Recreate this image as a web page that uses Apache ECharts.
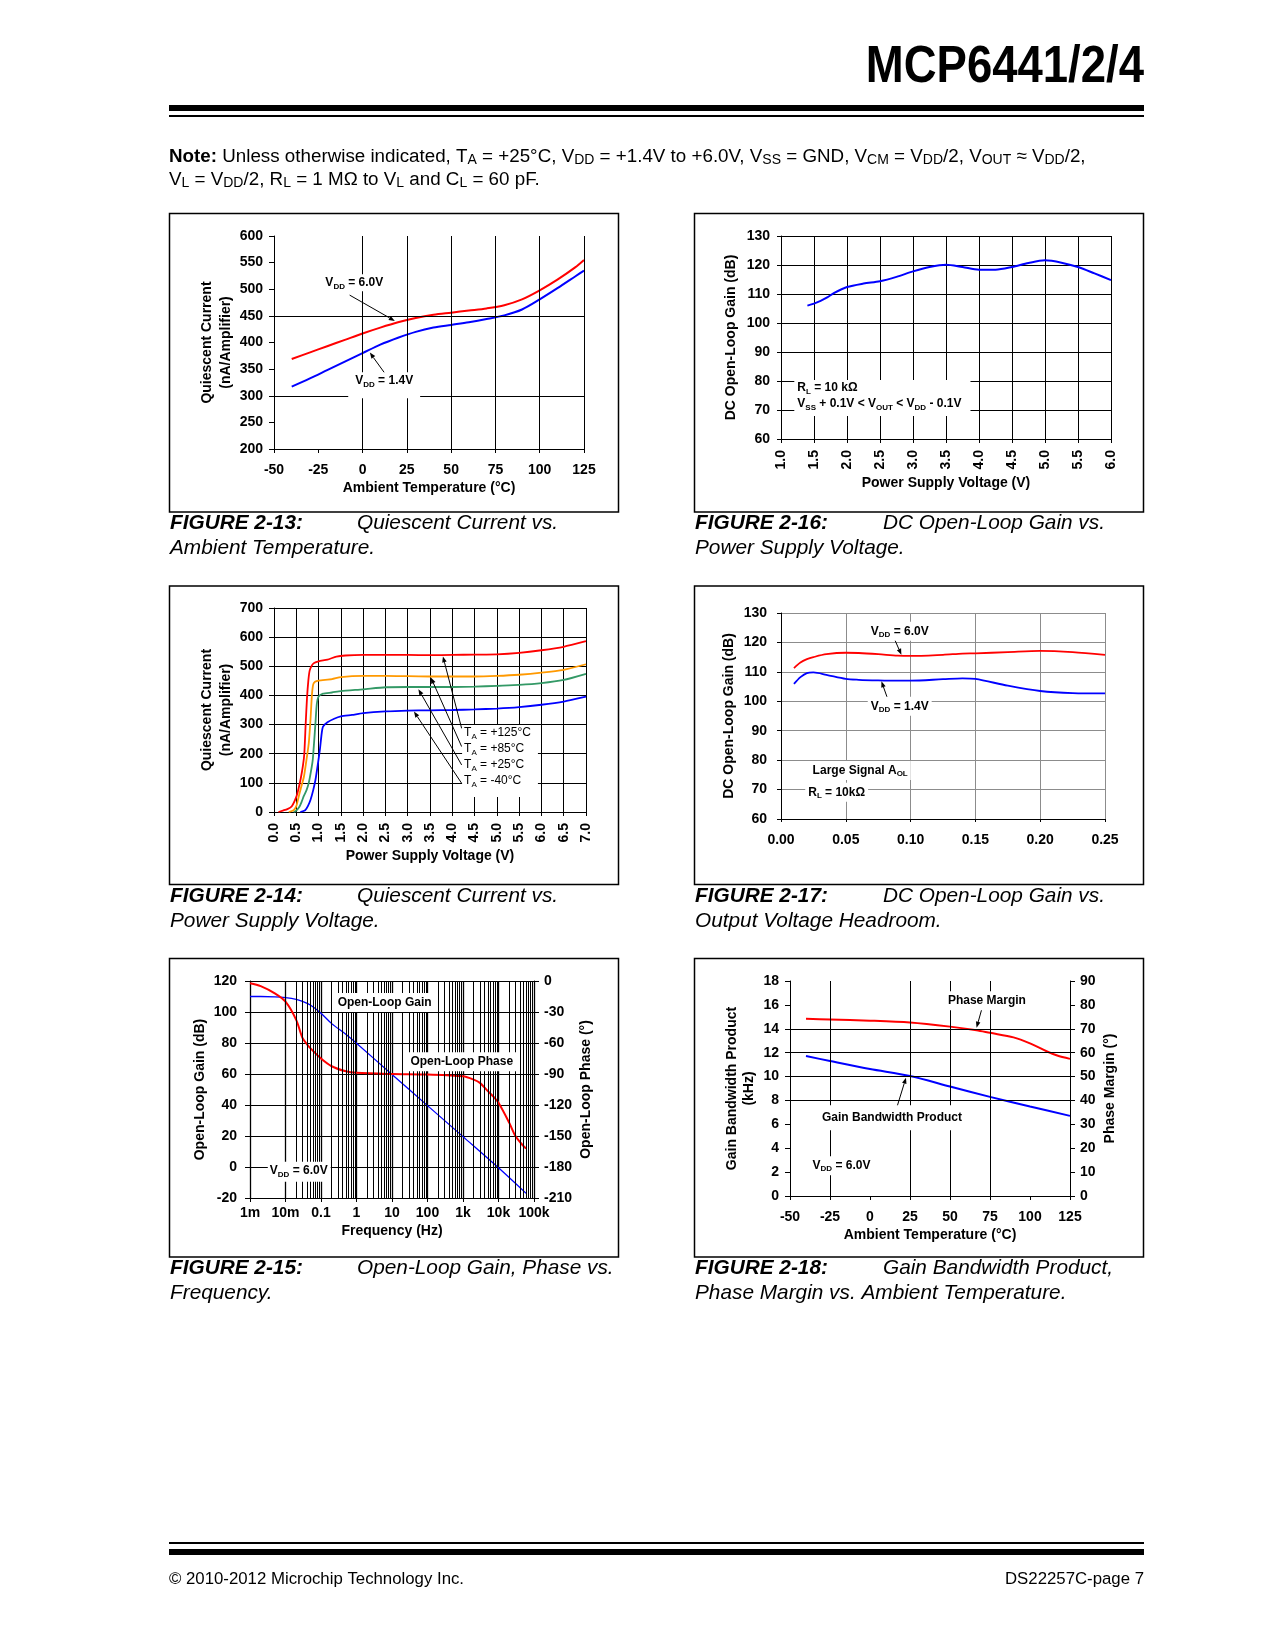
<!DOCTYPE html>
<html>
<head>
<meta charset="utf-8">
<script src="https://cdn.jsdelivr.net/npm/echarts/dist/echarts.min.js"></script>
<style>
html,body{margin:0;padding:0;background:#fff;}
#page{width:1275px;height:1650px;}
</style>
</head>
<body>
<div id="page"></div>
<script>
const FONT = '"Liberation Sans", Arial, Helvetica, sans-serif';

// ---------- FIGURE 2-13: Quiescent current vs ambient temperature ----------
const temp13 = [-40,-30,-20,-10,0,10,20,30,40,50,60,70,80,90,100,110,120,125];
const iq13Vdd60 = [369,381,393,405,417,428,438,446,452,456,460,464,470,481,498,518,541,555];
const iq13Vdd14 = [317,332,348,364,380,396,409,420,428,433,438,444,451,462,481,502,524,535];
const grid13X = [0,25,50,75,100,125];
const grid13Y = [300,450];

// ---------- FIGURE 2-16: DC open-loop gain vs power supply voltage ----------
const vdd16 = [1.4,1.5,1.6,1.7,1.8,2.0,2.25,2.5,2.75,3.0,3.25,3.5,3.75,4.0,4.25,4.5,4.75,5.0,5.25,5.5,5.75,6.0];
const aol16 = [106.0,106.7,107.6,108.8,110.3,112.4,113.6,114.4,115.9,117.8,119.3,120.1,119.3,118.4,118.4,119.3,120.7,121.6,120.8,119.3,117.1,114.8];

// ---------- FIGURE 2-14: Quiescent current vs power supply voltage ----------
const iq14T125 = [[0.1,0],[0.2,5],[0.3,10],[0.4,20],[0.5,52],[0.55,80],[0.6,115],[0.65,160],[0.68,200],[0.71,300],[0.74,390],[0.77,450],[0.8,485],[0.85,503],[0.9,511],[1.0,517],[1.2,523],[1.4,533],[1.6,537],[2.0,539],[3.0,539],[3.5,538],[4.0,539],[4.5,540],[5.0,541],[5.5,546],[6.0,555],[6.5,567],[7.0,586]];
const iq14T85 = [[0.33,0],[0.44,6],[0.5,20],[0.55,50],[0.6,80],[0.67,120],[0.72,170],[0.78,236],[0.82,320],[0.85,400],[0.88,438],[0.92,447],[1.0,451],[1.3,456],[1.5,463],[2.0,467],[2.5,467],[3.0,466],[3.5,465],[4.0,465],[4.5,465],[5.0,467],[5.5,471],[6.0,478],[6.5,488],[7.0,507]];
const iq14T25 = [[0.44,0],[0.5,5],[0.57,18],[0.62,35],[0.67,55],[0.73,75],[0.78,100],[0.83,140],[0.87,180],[0.9,240],[0.93,305],[0.96,370],[1.0,396],[1.1,406],[1.3,410],[1.5,415],[2.0,421],[2.5,428],[3.0,429],[3.5,429],[4.0,429],[4.5,430],[5.0,433],[5.5,436],[6.0,442],[6.5,453],[7.0,474]];
const iq14Tm40 = [[0.59,0],[0.7,6],[0.76,20],[0.82,42],[0.88,75],[0.93,110],[0.98,160],[1.03,215],[1.07,270],[1.1,293],[1.2,308],[1.35,320],[1.5,328],[1.75,333],[2.0,339],[2.5,345],[3.0,348],[3.5,349],[4.0,350],[4.5,352],[5.0,355],[5.5,360],[6.0,368],[6.5,379],[7.0,396]];

// ---------- FIGURE 2-17: DC open-loop gain vs output voltage headroom ----------
const hr17 = [0.010,0.015,0.020,0.025,0.035,0.050,0.060,0.075,0.090,0.100,0.125,0.140,0.150,0.175,0.200,0.225,0.250];
const aol17Vdd60 = [111.3,113.2,114.3,115.0,116.0,116.5,116.4,116.0,115.5,115.4,115.8,116.2,116.3,116.7,117.1,116.7,115.8];
const aol17Vdd14 = [105.9,108.2,109.6,109.8,109.0,107.6,107.3,107.1,107.0,107.0,107.5,107.8,107.6,105.3,103.5,102.8,102.7];

// ---------- FIGURE 2-15: Open-loop gain, phase vs frequency ----------
const freqTicks15 = [0.001,0.01,0.1,1,10,100,1000,10000,100000];
const freqLabels15 = ['1m','10m','0.1','1','10','100','1k','10k','100k'];
const freqGain15 = [0.001,0.002,0.005,0.01,0.02,0.03,0.05,0.1,0.2,0.5,1,10,100,1000,10000,60000];
const gain15 = [110,110,109.8,109.3,108.2,106.8,104.5,99.2,92.5,85.6,79.8,59.7,39.6,19.6,-0.5,-17];
const freqPhase15 = [0.001,0.002,0.005,0.01,0.02,0.03,0.04,0.05,0.1,0.2,0.5,1,10,100,1000,2000,3000,5000,7000,10000,20000,30000,50000,60000];
const phase15 = [-2.2,-5,-12,-20,-37.6,-55,-61,-65,-75,-82.5,-87.4,-88.9,-90,-90.5,-92.2,-95.4,-98.6,-106.6,-111.5,-117.9,-137.1,-150,-159.6,-162.2];

// ---------- FIGURE 2-18: GBWP, phase margin vs ambient temperature ----------
const temp18 = [-40,-25,0,25,50,75,100,125];
const gbwp18 = [11.72,11.3,10.63,10.05,9.17,8.3,7.49,6.71];
const temp18pm = [-40,-25,0,25,50,66.6,75,89.7,100,110.7,117,125];
const pm18 = [74.2,73.9,73.4,72.6,70.9,69.4,68.3,66.4,63.9,60.5,58.8,57.4];
const grid18X = [-25,25,50,75];
const grid18Y = [8,10,12,14];

// ---------- helpers ----------
const pairs = (xs, ys) => xs.map((x, i) => [x, ys[i]]);

function axis(o) {
  const a = {
    type: o.type || 'value',
    gridIndex: o.grid,
    min: o.min, max: o.max,
    position: o.position,
    name: o.name || '',
    nameLocation: 'middle',
    nameGap: o.nameGap || 20,
    nameRotate: o.nameRotate,
    nameMoveOverlap: false,
    nameTextStyle: {color: '#000', fontFamily: FONT, fontSize: 14, fontWeight: 'bold', lineHeight: o.nameLH || 17},
    axisLine: {show: true, onZero: false, lineStyle: {color: '#000', width: 1}},
    axisTick: {show: true, inside: false, length: o.tickLen || 5, lineStyle: {color: '#000', width: 1}},
    axisLabel: {show: true, color: '#000', fontFamily: FONT, fontSize: 14, fontWeight: 'bold',
                margin: o.margin, rotate: o.rotate || 0, formatter: o.fmt, showMinLabel: true, showMaxLabel: true},
    splitLine: {show: !!o.split, lineStyle: {color: o.splitColor || '#000', width: o.splitWidth || 1, type: 'solid'}},
    minorTick: {show: false}, minorSplitLine: {show: false}
  };
  if (a.type === 'log') { a.logBase = 10; } else { a.interval = o.interval; }
  return a;
}

function gridLines(xi, yi, xs, ys, color) {
  return {
    type: 'line', xAxisIndex: xi, yAxisIndex: yi, data: [], z: 1, silent: true, animation: false,
    markLine: {
      silent: true, animation: false, symbol: ['none', 'none'], label: {show: false},
      emphasis: {disabled: true},
      lineStyle: {color: color || '#000', width: 1, type: 'solid'},
      data: xs.map(v => ({xAxis: v})).concat(ys.map(v => ({yAxis: v})))
    }
  };
}

function curve(xi, yi, data, color, width, smooth) {
  return {
    type: 'line', xAxisIndex: xi, yAxisIndex: yi, data: data, z: 3,
    symbol: 'none', showSymbol: false, silent: true, animation: false,
    smooth: smooth === undefined ? 0.3 : smooth,
    lineStyle: {color: color, width: width || 2}, itemStyle: {color: color}
  };
}

const RED = '#ff0000', BLUE = '#0000ff', ORANGE = '#ff9900', GREEN = '#339966';
const decades15 = [0.001,0.01,0.1,1,10,100,1000,10000];
const minor15 = [];
decades15.forEach(d => [2,3,4,5,6,7,8,9].forEach(k => minor15.push(k * d)));

const fmt1 = v => (Math.round(v * 10) / 10).toFixed(1);
const fmt2 = v => (Math.round(v * 100) / 100).toFixed(2);
const fmtFreq = v => {
  const i = freqTicks15.findIndex(t => Math.abs(Math.log10(t) - Math.log10(v)) < 0.01);
  return i >= 0 ? freqLabels15[i] : '';
};

const option = {
  animation: false,
  backgroundColor: '#fff',
  textStyle: {fontFamily: FONT},
  grid: [
    {left: 274, top: 236, width: 310, height: 213, containLabel: false, outerBoundsMode: 'none'},
    {left: 781, top: 236, width: 330, height: 203, containLabel: false, outerBoundsMode: 'none'},
    {left: 274, top: 608, width: 312, height: 204, containLabel: false, outerBoundsMode: 'none'},
    {left: 781, top: 613, width: 324, height: 206, containLabel: false, outerBoundsMode: 'none'},
    {left: 250, top: 981, width: 284, height: 217, containLabel: false, outerBoundsMode: 'none'},
    {left: 790, top: 981, width: 280, height: 215, containLabel: false, outerBoundsMode: 'none'}
  ],
  xAxis: [
    axis({grid: 0, min: -50, max: 125, interval: 25, name: 'Ambient Temperature (°C)', nameGap: 31, margin: 14, tickLen: 4}),
    axis({grid: 1, min: 1, max: 6, interval: 0.5, rotate: 90, fmt: fmt1, name: 'Power Supply Voltage (V)', nameGap: 36, margin: 11, split: true, tickLen: 4}),
    axis({grid: 2, min: 0, max: 7, interval: 0.5, rotate: 90, fmt: fmt1, name: 'Power Supply Voltage (V)', nameGap: 36, margin: 11, split: true, tickLen: 4}),
    axis({grid: 3, min: 0, max: 0.25, interval: 0.05, fmt: fmt2, margin: 14, split: true, splitColor: '#8c8c8c', tickLen: 3}),
    axis({grid: 4, type: 'log', min: 0.001, max: 100000, fmt: fmtFreq, name: 'Frequency (Hz)', nameGap: 25, margin: 8, split: true, splitWidth: 1.3, tickLen: 4}),
    axis({grid: 5, min: -50, max: 125, interval: 25, name: 'Ambient Temperature (°C)', nameGap: 31, margin: 14, tickLen: 4})
  ],
  yAxis: [
    axis({grid: 0, min: 200, max: 600, interval: 50, name: 'Quiescent Current\n(nA/Amplifier)', nameRotate: 90, nameGap: 38, nameLH: 19, margin: 11}),
    axis({grid: 1, min: 60, max: 130, interval: 10, name: 'DC Open-Loop Gain (dB)', nameRotate: 90, nameGap: 41, margin: 11, split: true, tickLen: 4}),
    axis({grid: 2, min: 0, max: 700, interval: 100, name: 'Quiescent Current\n(nA/Amplifier)', nameRotate: 90, nameGap: 38, nameLH: 19, margin: 11, split: true}),
    axis({grid: 3, min: 60, max: 130, interval: 10, name: 'DC Open-Loop Gain (dB)', nameRotate: 90, nameGap: 43, margin: 14, split: true, splitColor: '#8c8c8c', tickLen: 4}),
    axis({grid: 4, min: -20, max: 120, interval: 20, name: 'Open-Loop Gain (dB)', nameRotate: 90, nameGap: 41, margin: 13, split: true}),
    axis({grid: 4, position: 'right', min: -210, max: 0, interval: 30, name: 'Open-Loop Phase (°)', nameRotate: 90, nameGap: 44, margin: 10}),
    axis({grid: 5, min: 0, max: 18, interval: 2, name: 'Gain Bandwidth Product\n(kHz)', nameRotate: 90, nameGap: 32, nameLH: 17, margin: 11}),
    axis({grid: 5, position: 'right', min: 0, max: 90, interval: 10, name: 'Phase Margin (°)', nameRotate: 90, nameGap: 32, margin: 10})
  ],
  series: [
    gridLines(0, 0, grid13X, grid13Y),
    curve(0, 0, pairs(temp13, iq13Vdd60), RED, 2),
    curve(0, 0, pairs(temp13, iq13Vdd14), BLUE, 2),

    curve(1, 1, pairs(vdd16, aol16), BLUE, 2),

    curve(2, 2, iq14Tm40, BLUE, 1.8, 0.2),
    curve(2, 2, iq14T25, GREEN, 1.8, 0.2),
    curve(2, 2, iq14T85, ORANGE, 1.8, 0.2),
    curve(2, 2, iq14T125, RED, 1.8, 0.2),

    curve(3, 3, pairs(hr17, aol17Vdd60), RED, 1.8),
    curve(3, 3, pairs(hr17, aol17Vdd14), BLUE, 1.8),

    gridLines(4, 4, minor15, []),
    curve(4, 4, pairs(freqGain15, gain15), BLUE, 1.3),
    curve(4, 5, pairs(freqPhase15, phase15), RED, 2),

    gridLines(5, 6, grid18X, grid18Y),
    curve(5, 6, pairs(temp18, gbwp18), BLUE, 2),
    curve(5, 7, pairs(temp18pm, pm18), RED, 2)
  ]
};

const chart = echarts.init(document.getElementById('page'), null, {renderer: 'canvas', width: 1275, height: 1650});
chart.setOption(option);

// ---------- annotations (positions in data units) ----------
const labels = [
  {a: [0, 0], p: [-21, 512], t: 'V{DD} = 6.0V', al: 'left', pad: [1, 3, 1, 3]},
  {a: [0, 0], p: [12.2, 328], t: 'V{DD} = 1.4V', al: 'center', pad: [1, 7, 10, 7]},
  {a: [1, 1], p: [1.247, 74.8], t: 'R{L} = 10 kΩ\nV{SS} + 0.1V < V{OUT} < V{DD} - 0.1V', al: 'left', pad: [0, 9, 4, 3], lh: 16},
  {a: [2, 2], p: [4.265, 189], t: 'T{A} = +125°C\nT{A} = +85°C\nT{A} = +25°C\nT{A} = -40°C', al: 'left', pad: [0, 7, 8, 2], lh: 16, w: 'normal'},
  {a: [3, 3], p: [0.0916, 123.8], t: 'V{DD} = 6.0V', al: 'center', pad: [2, 3, 2, 3]},
  {a: [3, 3], p: [0.0916, 98.3], t: 'V{DD} = 1.4V', al: 'center', pad: [2, 3, 2, 3]},
  {a: [3, 3], p: [0.0244, 76.5], t: 'Large Signal A{OL}', al: 'left', pad: [2, 3, 2, 3]},
  {a: [3, 3], p: [0.021, 69.1], t: 'R{L} = 10kΩ', al: 'left', pad: [2, 3, 2, 3]},
  {a: [4, 4], p: [0.294, 106.1], t: 'Open-Loop Gain', al: 'left', pad: [2, 3, 2, 3]},
  {a: [4, 4], p: [33.1, 67.9], t: 'Open-Loop Phase', al: 'left', pad: [2, 3, 2, 3]},
  {a: [4, 4], p: [0.00361, -2.7], t: 'V{DD} = 6.0V', al: 'left', pad: [2, 3, 3, 2]},
  {a: [5, 6], p: [48.7, 16.35], t: 'Phase Margin', al: 'left', pad: [2, 3, 2, 3]},
  {a: [5, 6], p: [-30.0, 6.56], t: 'Gain Bandwidth Product', al: 'left', pad: [5, 3, 5, 3]},
  {a: [5, 6], p: [-35.9, 2.54], t: 'V{DD} = 6.0V', al: 'left', pad: [2, 3, 2, 3]}
];
const arrows = [
  {a: [0, 0], from: [-7.3, 489], to: [18.2, 440.6]},
  {a: [0, 0], from: [12.5, 342.5], to: [4.1, 381]},
  {a: [2, 2], from: [4.21, 287], to: [3.79, 534]},
  {a: [2, 2], from: [4.21, 224.5], to: [3.52, 461.6]},
  {a: [2, 2], from: [4.21, 161.5], to: [3.24, 421.5]},
  {a: [2, 2], from: [4.21, 98.5], to: [3.14, 344.8]},
  {a: [3, 3], from: [0.0878, 120.9], to: [0.0929, 115.8]},
  {a: [3, 3], from: [0.0821, 101.1], to: [0.0775, 106.8]},
  {a: [5, 6], from: [69.7, 15.57], to: [66.6, 14.09]},
  {a: [5, 6], from: [16.6, 7.34], to: [22.5, 9.91]}
];

function toRich(s) {
  return s.split('\n').map(line => {
    const parts = line.split(/\{([^}]*)\}/);
    let out = '';
    parts.forEach((p, i) => { if (p) out += (i % 2 ? '{s|' : '{m|') + p + '}'; });
    return out;
  }).join('\n');
}
function richStyles(size, subSize, weight, lh, subLH) {
  return {
    m: {fontSize: size, fontWeight: weight, fontFamily: FONT, color: '#000', lineHeight: lh, verticalAlign: 'middle'},
    s: {fontSize: subSize, fontWeight: weight, fontFamily: FONT, color: '#000', lineHeight: subLH, verticalAlign: 'bottom'},
    b: {fontSize: size, fontWeight: 'bold', fontFamily: FONT, color: '#000', lineHeight: lh, verticalAlign: 'middle'}
  };
}
const px = (a, p) => chart.convertToPixel({xAxisIndex: a[0], yAxisIndex: a[1]}, p);

const G = [];
// Header
G.push({type: 'text', x: 1144, y: 68, scaleX: 0.875, z: 100,
  style: {text: 'MCP6441/2/4', fontSize: 52, fontWeight: 'bold', fontFamily: FONT, fill: '#000', textAlign: 'right', verticalAlign: 'middle', textVerticalAlign: 'middle'}});
G.push({type: 'rect', z: 100, shape: {x: 169, y: 105, width: 975, height: 6}, style: {fill: '#000'}});
G.push({type: 'rect', z: 100, shape: {x: 169, y: 115, width: 975, height: 2}, style: {fill: '#000'}});
const noteStyles = richStyles(18.8, 14, 'normal', 20, 6);
G.push({type: 'text', x: 169, y: 157, z: 100,
  style: {text: '{b|Note:}' + toRich(' Unless otherwise indicated, T{A} = +25°C, V{DD} = +1.4V to +6.0V, V{SS} = GND, V{CM} = V{DD}/2, V{OUT} ≈ V{DD}/2,'),
          rich: noteStyles, textAlign: 'left', verticalAlign: 'middle', textVerticalAlign: 'middle'}});
G.push({type: 'text', x: 169, y: 180, z: 100,
  style: {text: toRich('V{L} = V{DD}/2, R{L} = 1 MΩ to V{L} and C{L} = 60 pF.'),
          rich: noteStyles, textAlign: 'left', verticalAlign: 'middle', textVerticalAlign: 'middle'}});

// Footer
G.push({type: 'rect', z: 100, shape: {x: 169, y: 1542, width: 975, height: 2}, style: {fill: '#000'}});
G.push({type: 'rect', z: 100, shape: {x: 169, y: 1549, width: 975, height: 6}, style: {fill: '#000'}});
G.push({type: 'text', x: 169, y: 1579, z: 100, style: {text: '© 2010-2012 Microchip Technology Inc.', fontSize: 16.8, fontFamily: FONT, fill: '#000', textAlign: 'left', verticalAlign: 'middle', textVerticalAlign: 'middle'}});
G.push({type: 'text', x: 1144, y: 1579, z: 100, style: {text: 'DS22257C-page 7', fontSize: 16.8, fontFamily: FONT, fill: '#000', textAlign: 'right', verticalAlign: 'middle', textVerticalAlign: 'middle'}});

// Chart frames
const frames = [[169.5, 213.5], [694.5, 213.5], [169.5, 586], [694.5, 586], [169.5, 958.5], [694.5, 958.5]];
frames.forEach(f => G.push({type: 'rect', z: 100, shape: {x: f[0], y: f[1], width: 449, height: 298.5}, style: {fill: 'none', stroke: '#000', lineWidth: 1.5}}));

// Captions
const captions = [
  {x: 170, tab: 357, y: 530, fig: 'FIGURE 2-13:', l1: 'Quiescent Current vs.', l2: 'Ambient Temperature.'},
  {x: 695, tab: 883, y: 530, fig: 'FIGURE 2-16:', l1: 'DC Open-Loop Gain vs.', l2: 'Power Supply Voltage.'},
  {x: 170, tab: 357, y: 903, fig: 'FIGURE 2-14:', l1: 'Quiescent Current vs.', l2: 'Power Supply Voltage.'},
  {x: 695, tab: 883, y: 903, fig: 'FIGURE 2-17:', l1: 'DC Open-Loop Gain vs.', l2: 'Output Voltage Headroom.'},
  {x: 170, tab: 357, y: 1275, fig: 'FIGURE 2-15:', l1: 'Open-Loop Gain, Phase vs.', l2: 'Frequency.'},
  {x: 695, tab: 883, y: 1275, fig: 'FIGURE 2-18:', l1: 'Gain Bandwidth Product,', l2: 'Phase Margin vs. Ambient Temperature.'}
];
captions.forEach(c => {
  const base = {fontSize: 20.8, fontFamily: FONT, fontStyle: 'italic', fill: '#000', textAlign: 'left', verticalAlign: 'middle', textVerticalAlign: 'middle'};
  G.push({type: 'text', x: c.x, y: c.y - 7, z: 100, style: Object.assign({}, base, {text: c.fig, fontWeight: 'bold'})});
  G.push({type: 'text', x: c.tab, y: c.y - 7, z: 100, style: Object.assign({}, base, {text: c.l1})});
  G.push({type: 'text', x: c.x, y: c.y + 25 - 7, z: 100, style: Object.assign({}, base, {text: c.l2})});
});

// Arrows
arrows.forEach(ar => {
  const p0 = px(ar.a, ar.from), p1 = px(ar.a, ar.to);
  const dx = p1[0] - p0[0], dy = p1[1] - p0[1];
  const L = Math.sqrt(dx * dx + dy * dy) || 1;
  const ux = dx / L, uy = dy / L, nx = -uy, ny = ux;
  const hl = 6, hw = 2.3;
  const bx = p1[0] - ux * hl, by = p1[1] - uy * hl;
  G.push({type: 'line', z: 40, shape: {x1: p0[0], y1: p0[1], x2: bx, y2: by}, style: {stroke: '#000', lineWidth: 1}});
  G.push({type: 'polygon', z: 40, shape: {points: [[p1[0], p1[1]], [bx + nx * hw, by + ny * hw], [bx - nx * hw, by - ny * hw]]}, style: {fill: '#000'}});
});

// Labels
labels.forEach(lb => {
  const p = px(lb.a, lb.p);
  const lh = lb.lh || 15;
  const nLines = lb.t.split('\n').length;
  const pad = lb.pad;
  const H = nLines * lh;
  const top = p[1] - H / 2 - pad[0];
  let x;
  if (lb.al === 'left') x = p[0] - pad[3];
  else x = p[0] + (pad[1] - pad[3]) / 2;
  G.push({type: 'text', z: 50, x: x, y: top,
    style: {text: toRich(lb.t), rich: richStyles(12, 8, lb.w || 'bold', lh, 7),
            textAlign: lb.al, verticalAlign: 'top', textVerticalAlign: 'top',
            backgroundColor: '#fff', padding: pad}});
});

chart.setOption({graphic: {elements: G}});
</script>
</body>
</html>
